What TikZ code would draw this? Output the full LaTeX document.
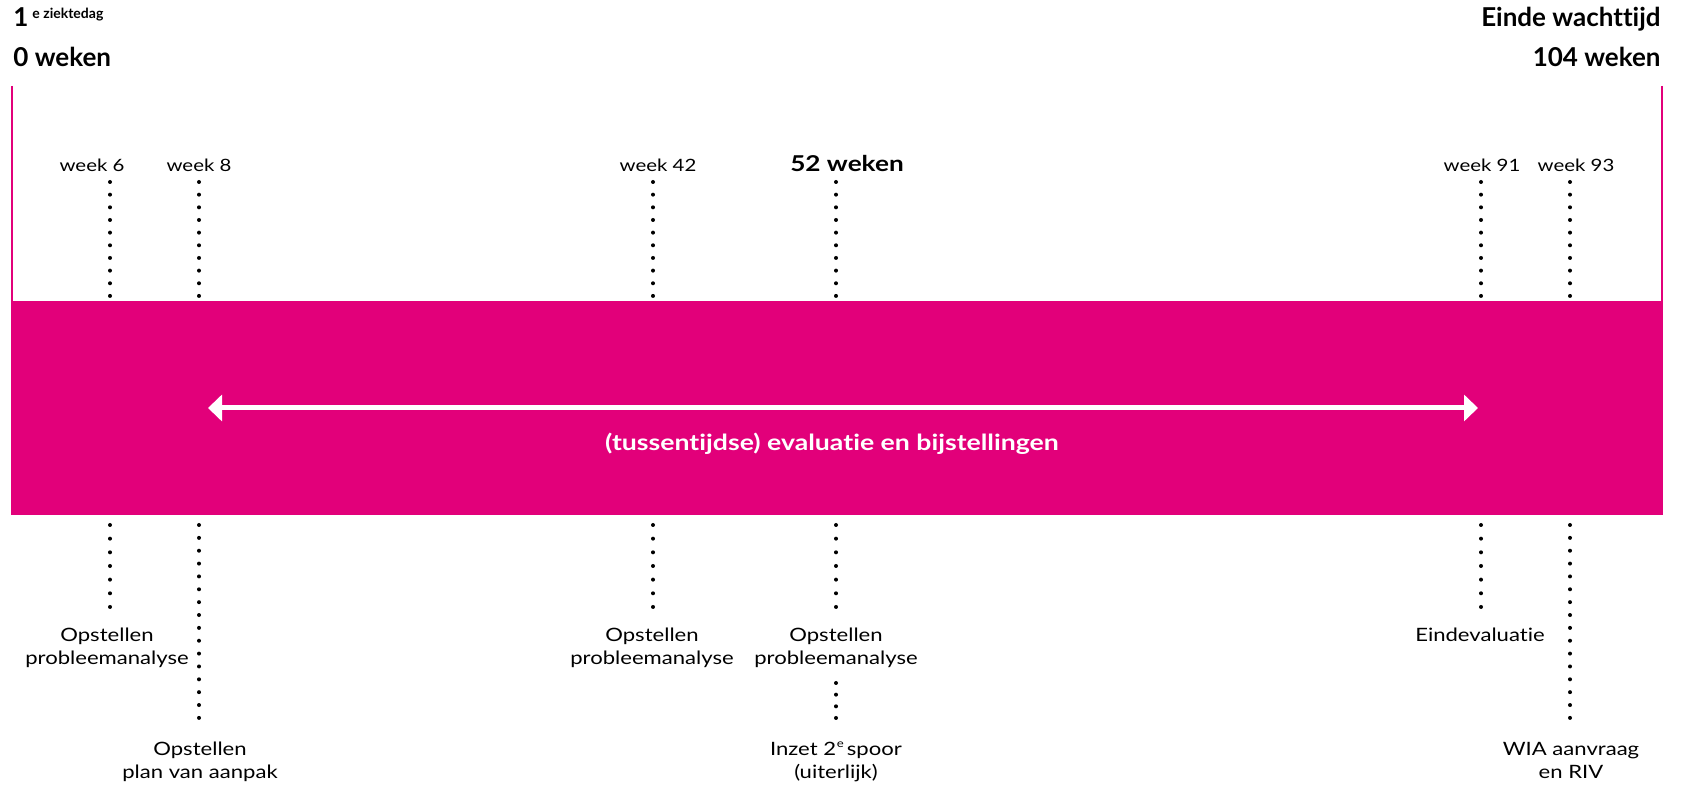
\documentclass[tikz,border=0pt]{standalone}
\usepackage{fontspec}
\setmainfont{Lato}[Ligatures=NoCommon]
\newfontfamily\weekfont{Lato}[FakeStretch=1.2, Ligatures=NoCommon]
\usetikzlibrary{positioning, arrows.meta}
\definecolor{zwpink}{RGB}{226,0,122}

\tikzset{
  kop/.style={font=\fontsize{13}{15}\selectfont\bfseries, inner sep=0pt},
  weeklabel/.style={font=\weekfont\fontsize{8.5}{11.75}\selectfont, inner sep=0pt, anchor=base},
  actie/.style={weeklabel, font=\weekfont\fontsize{9.2}{11.75}\selectfont, align=center},
  stip/.style={line width=2pt, line cap=round, dash pattern=on 0pt off #1},
  stip/.default=6.33pt,
  zijlijn/.style={zwpink, line width=1pt},
  balk/.style={fill=zwpink, inner sep=0pt, minimum width=826pt, minimum height=107pt},
  evalpijl/.style={white, line width=2.5pt, {Triangle[length=7pt,width=13pt]}-{Triangle[length=7pt,width=13pt]}},
}

\begin{document}
\begin{tikzpicture}[x=0.5pt, y=-0.5pt]
	\useasboundingbox (0,0) rectangle (1683,785);
	
	% roze balk
	\node[balk] (balk) at (837,408) {};
	\coordinate (links) at (12,86);
	\coordinate (rechts) at (1662,86);
	\draw[zijlijn] (links) -- (links |- balk.north);
	\draw[zijlijn] (rechts) -- (rechts |- balk.north);
	
	% koppen
	\node[kop, anchor=base west] (start) at (13,27) {1\hspace{2pt}\raisebox{4pt}{\fontsize{7}{8}\selectfont e ziektedag}};
	\node[kop, anchor=base west] (nul) at (13,67) {0 weken};
	\node[kop, anchor=base east] (einde) at (1661,27) {Einde wachttijd};
	\node[kop, anchor=base east] (eind104) at (1661,67) {104 weken};
	
	% weken boven de balk
	\node[weeklabel] (w6) at (92,172) {week 6};
	\node[weeklabel] (w8) at (199,172) {week 8};
	\node[weeklabel] (w42) at (658,172) {week 42};
	\node[weeklabel, font=\weekfont\fontsize{10.9}{12}\selectfont\bfseries] (w52) at (847,172) {52 weken};
	\node[weeklabel] (w91) at (1482,172) {week 91};
	\node[weeklabel] (w93) at (1576,172) {week 93};
	
	\foreach \n/\x in {6/110, 8/199, 42/653, 52/836, 91/1481, 93/1570} {
		\coordinate (a\n) at (\x,182);
		\coordinate (b\n) at (\x,296);
		\coordinate (c\n) at (\x,525);
		\draw[stip] (a\n) -- (b\n);
	}
	
	% evaluatie
	\coordinate (pijlL) at (208,408);
	\coordinate (pijlR) at (1478,408);
	\draw[evalpijl] (pijlL) -- (pijlR);
	\node[font=\weekfont\fontsize{11.1}{13}\selectfont\bfseries, text=white, anchor=base] (evaltekst) at (832,451) {(tussentijdse) evaluatie en bijstellingen};
	
	% acties onder de balk
	\node[actie] (o6) at (107,665) {Opstellen\\probleemanalyse};
	\node[actie] (o8) at (200,779) {Opstellen\\plan van aanpak};
	\node[actie] (o42) at (652,665) {Opstellen\\probleemanalyse};
	\node[actie] (o52) at (836,665) {Opstellen\\probleemanalyse};
	\node[actie] (spoor) at (836,779) {Inzet 2\hspace{0.4pt}\raisebox{3.8pt}{\fontsize{5.5}{5.5}\selectfont e}\hspace{1.5pt}spoor\\(uiterlijk)};
	\node[actie] (o91) at (1480,642) {Eindevaluatie};
	\node[actie] (o93) at (1571,779) {WIA aanvraag\\en RIV};
	
	\coordinate (d6) at (110,607);
	\coordinate (d8) at (199,718);
	\coordinate (d42) at (653,607);
	\coordinate (d52) at (836,607);
	\coordinate (e52) at (836,683);
	\coordinate (f52) at (836,718);
	\coordinate (d91) at (1481,607);
	\coordinate (d93) at (1570,718);
	\draw[stip=6.83pt] (c6) -- (d6);
	\draw[stip=6.43pt] (c8) -- (d8);
	\draw[stip=6.83pt] (c42) -- (d42);
	\draw[stip=6.83pt] (c52) -- (d52);
	\draw[stip=5.83pt] (e52) -- (f52);
	\draw[stip=6.83pt] (c91) -- (d91);
	\draw[stip=6.43pt] (c93) -- (d93);
	
\end{tikzpicture}
\end{document}
